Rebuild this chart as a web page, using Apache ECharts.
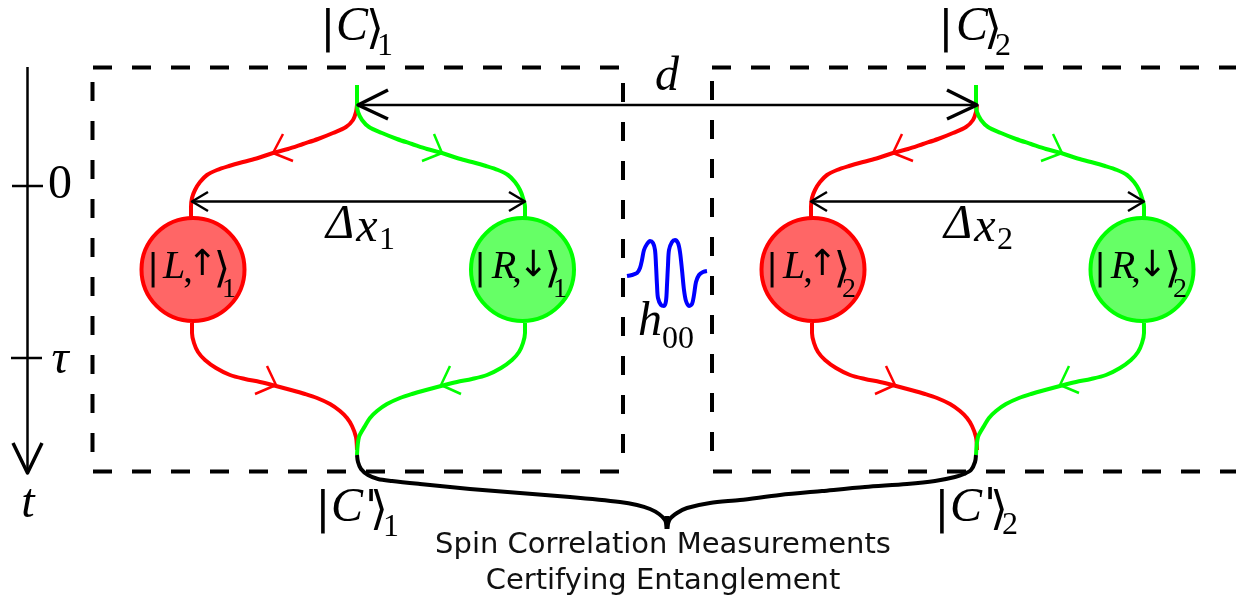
<!DOCTYPE html>
<html><head><meta charset="utf-8">
<style>html,body{margin:0;padding:0;background:#fff}#c{width:1236px;height:597px}</style>
<script src="https://cdn.jsdelivr.net/npm/echarts@6/dist/echarts.min.js"></script>
</head><body><div id="c"></div>
<script>
// Diagram data, in picture units (x right, y down)
const redPaths = [
  [[357,105],[356,112],[353,120],[346,127],[333,133],[318,139],[303,144],[288,149],[273,153],[258,158],[243,162],[229,166],[217,170],[207,175],[200,182],[195,190],[192,198],[191,207],[191,217]],
  [[192,323],[192,333],[194,343],[198,352],[205,360],[216,368],[230,375],[245,379],[260,382],[276,386],[291,390],[305,394],[317,398],[330,404],[340,411],[347,418],[352,426],[356,437],[357,450]],
  [[977,105],[976,112],[973,120],[966,127],[953,133],[938,139],[923,144],[908,149],[893,153],[878,158],[863,162],[849,166],[837,170],[827,175],[820,182],[815,190],[812,198],[811,207],[811,217]],
  [[812,323],[812,333],[814,343],[818,352],[825,360],[836,368],[850,375],[865,379],[880,382],[896,386],[911,390],[925,394],[937,398],[950,404],[960,411],[967,418],[972,426],[976,437],[977,450]]
];
const greenPaths = [
  [[357,85],[357,105],[358,112],[362,120],[369,127],[382,133],[397,139],[412,144],[427,149],[442,153],[457,158],[472,162],[486,166],[498,170],[508,175],[515,182],[520,190],[523,198],[525,207],[525,217]],
  [[525,323],[525,333],[523,343],[519,352],[512,360],[501,368],[487,375],[472,379],[457,382],[441,386],[426,390],[412,394],[400,398],[387,404],[377,411],[370,418],[365,426],[359,437],[357,455]],
  [[976,85],[976,105],[977,112],[981,120],[988,127],[1001,133],[1016,139],[1031,144],[1046,149],[1061,153],[1076,158],[1091,162],[1105,166],[1117,170],[1127,175],[1134,182],[1139,190],[1142,198],[1144,207],[1144,217]],
  [[1144,323],[1144,333],[1142,343],[1138,352],[1131,360],[1120,368],[1106,375],[1091,379],[1076,382],[1060,386],[1045,390],[1031,394],[1019,398],[1006,404],[996,411],[989,418],[984,426],[978,437],[976,455]]
];
const redHeads = [
  [[283,134],[273,153],[293,161]], [[267,366],[276,385],[255,394]],
  [[902,134],[893,153],[913,161]], [[886,366],[895,385],[875,394]]
];
const greenHeads = [
  [[434,134],[442,153],[422,161]], [[450,366],[441,385],[461,394]],
  [[1053,134],[1062,153],[1041,161]], [[1069,366],[1060,385],[1079,393]]
];
const dashedLines = [
  [[93,67.5],[620,67.5]], [[712,67.5],[1236,67.5]],
  [[93,471.5],[620,471.5]], [[713,471.5],[1236,471.5]],
  [[92.5,82],[92.5,453]], [[623,83],[623,454]], [[712,81],[712,454]]
];
const spanLines = [
  [[358,105],[977,105]], [[192,201.5],[525,201.5]], [[811,201.5],[1144,201.5]]
];
const bigHeads = [ [[388,90],[358,105],[388,119]], [[947,90],[977,105],[947,119]] ];
const smallHeads = [
  [[208,192],[192,201.5],[208,211]], [[509,192],[525,201.5],[509,211]],
  [[827,192],[811,201.5],[827,211]], [[1128,192],[1144,201.5],[1128,211]]
];
const timeAxis = [[27.5,67],[27.5,473]];
const timeHead = [[13,443],[27.5,473],[42,443]];
const timeTicks = [ [[12,186],[43,186]], [[11,358],[42,358]] ];
const braceLeft = [[357,455],[358,462],[361,469],[368,475],[378,479],[392,481],[420,484],[470,489],[520,493],[570,497],[620,502],[637,505],[650,509],[659,514],[665,520],[667,528]];
const braceRight = [[976,455],[975,462],[971,470],[964,474],[955,477],[935,481],[907,484],[865,487],[822,491],[780,495],[740,500],[710,503],[687,508],[677,513],[670,519],[667,528]];
const braceStem = [[667,516],[667,529]];
const wave = [[627,276],[632,275],[637,273],[640,268],[642,260],[644,250],[647,244],[650,241],[653,243],[655,250],[656,265],[657,285],[658,298],[661,305],[664,306],[666,301],[667,285],[668,265],[669,250],[672,242],[675,240],[678,243],[680,252],[682,270],[684,290],[686,301],[689,306],[692,304],[694,295],[696,282],[699,275],[703,272],[707,271]];
const redStates = [[193,269.5],[813,269.5]];
const greenStates = [[522.5,269.5],[1142,269.5]];

const largeItalic = [[352,27,'C'],[972,27,'C'],[347,508,'C'],[966,508,'C'],[667,77,'d'],[28,504,'t'],[60,360,'τ'],[650,322,'h'],[340,225,'Δ'],[367,228,'x'],[958,225,'Δ'],[985,228,'x']];
const largeRoman = [[60,185,'0']];
const largeBars = [[328,31,'|'],[946,31,'|'],[323,512,'|'],[942,512,'|'],[371,511,"'"],[990,509,"'"]];
const largeKets = [[375,31,'⟩'],[993,31,'⟩'],[379,512,'⟩'],[999,512,'⟩']];
const subs = [[385,47,'1'],[1003,47,'2'],[391,528,'1'],[1010,526,'2'],[387,241,'1'],[1005,241,'2'],[678,340,'00']];
const stateItalic = [[174,267,'L'],[794,267,'L'],[504,267,'R'],[1123,267,'R']];
const stateComma = [[188,272,','],[808,272,','],[517,272,','],[1136,272,',']];
const stateArrows = [[202,266,'↑'],[822,266,'↑'],[533,267,'↓'],[1152,267,'↓']];
const stateBars = [[153,270,'|'],[772,270,'|'],[480,270,'|'],[1100,270,'|']];
const stateKets = [[222,271,'⟩'],[842,271,'⟩'],[553,271,'⟩'],[1173,271,'⟩']];
const stateSubs = [[229,290,'1'],[849,290,'2'],[560,290,'1'],[1180,290,'2']];
const caption = [[663,545,'Spin Correlation Measurements'],[663,581,'Certifying Entanglement']];

const RED='#ff0000', GREEN='#00ff00', BLACK='#000000', BLUE='#0000ff';
const SERIF='"Liberation Serif","DejaVu Serif"', SYM='"DejaVu Sans"';
function line(pts,color,width,opt){
  return Object.assign({type:'line',data:pts,showSymbol:false,symbol:'none',silent:true,clip:false,z:3,
    lineStyle:{color:color,width:width,cap:'butt',join:'round'}},opt||{});
}
function curve(pts,color,width,z){ return line(pts,color,width,{smooth:0.3,z:z||3}); }
function text(rows,font,size,italic,color){
  return {type:'scatter',data:rows,symbolSize:0,silent:true,z:10,clip:false,itemStyle:{opacity:1},
    label:{show:true,position:'inside',align:'center',verticalAlign:'middle',color:color||BLACK,opacity:1,
      fontFamily:font,fontSize:size,fontStyle:italic?'italic':'normal',
      formatter:p=>p.value[2]}};
}
function disc(rows,stroke,fill){
  return {type:'scatter',data:rows,symbol:'circle',symbolSize:103,silent:true,z:5,
    itemStyle:{color:fill,borderColor:stroke,borderWidth:4,opacity:1}};
}
const series=[];
dashedLines.forEach(p=>series.push(line(p,BLACK,4,{lineStyle:{color:BLACK,width:4,type:[19,20],cap:'butt'},z:2})));
series.push(curve(braceLeft,BLACK,4,4),curve(braceRight,BLACK,4,4),line(braceStem,BLACK,5,{z:4}));
redPaths.forEach(p=>series.push(curve(p,RED,4,3)));
greenPaths.forEach(p=>series.push(curve(p,GREEN,4,3)));
redHeads.forEach(p=>series.push(line(p,RED,2.5)));
greenHeads.forEach(p=>series.push(line(p,GREEN,2.5)));
spanLines.forEach(p=>series.push(line(p,BLACK,2.5,{z:6})));
bigHeads.forEach(p=>series.push(line(p,BLACK,3.5,{z:6})));
smallHeads.forEach(p=>series.push(line(p,BLACK,2.5,{z:6})));
series.push(line(timeAxis,BLACK,2.5),line(timeHead,BLACK,3.5));
timeTicks.forEach(p=>series.push(line(p,BLACK,2.5)));
series.push(curve(wave,BLUE,4,3));
series.push(disc(redStates,RED,'#ff6666'),disc(greenStates,GREEN,'#66ff66'));
series.push(
  text(largeItalic,SERIF,48,true),
  text(largeRoman,SERIF,48,false),
  text(largeBars,SYM,44,false),
  text(largeKets,SYM,46,false),
  text(subs,SERIF,32,false),
  text(stateItalic,SERIF,40,true),
  text(stateComma,SERIF,38,false),
  text(stateArrows,SYM,36,false),
  text(stateBars,SYM,36,false),
  text(stateKets,SYM,42,false),
  text(stateSubs,SERIF,28,false),
  text(caption,'"DejaVu Sans"',29,false,'#111111')
);
const chart=echarts.init(document.getElementById('c'),null,{renderer:'canvas'});
chart.setOption({animation:false,backgroundColor:'#ffffff',tooltip:{show:false},legend:{show:false},
  grid:{left:0,right:0,top:0,bottom:0,containLabel:false},
  xAxis:{type:'value',min:0,max:1236,show:false},
  yAxis:{type:'value',min:0,max:597,inverse:true,show:false},
  series:series});
</script></body></html>
